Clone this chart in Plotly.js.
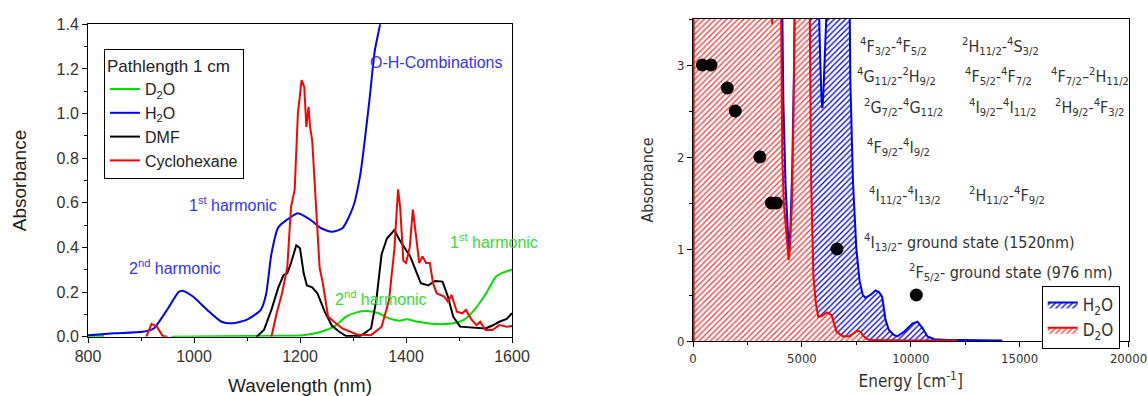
<!DOCTYPE html>
<html>
<head>
<meta charset="utf-8">
<script src="https://cdn.plot.ly/plotly-3.0.1.min.js"></script>
<style>html,body{margin:0;padding:0;background:#fff;}#chart{width:1148px;height:396px;}</style>
</head>
<body>
<div id="chart"></div>
<script>
// ---------- Left panel: NIR absorbance vs wavelength (nm) ----------
const wlD2O  = [800, 830, null, 957, 1050, 1150, 1206, 1240, 1267, 1287, 1307, 1327, 1348, 1368, 1388, 1401, 1422, 1455, 1489, 1509, 1529, 1550, 1570, 1583, 1600];
const absD2O = [0.003, 0.003, null, 0.0, 0.002, 0.004, 0.007, 0.022, 0.05, 0.09, 0.109, 0.115, 0.105, 0.082, 0.072, 0.078, 0.067, 0.057, 0.06, 0.075, 0.12, 0.19, 0.27, 0.287, 0.30];

const wlH2O  = [800, 850, 903, 924, 951, 971, 978, 998, 1025, 1052, 1072, 1099, 1126, 1136, 1146, 1159, 1179, 1196, 1220, 1240, 1260, 1280, 1300, 1314, 1331, 1341, 1351, 1360];
const absH2O = [0.007, 0.015, 0.022, 0.037, 0.127, 0.20, 0.206, 0.18, 0.12, 0.067, 0.06, 0.075, 0.12, 0.19, 0.37, 0.49, 0.53, 0.553, 0.523, 0.486, 0.47, 0.486, 0.58, 0.73, 1.06, 1.28, 1.4, 1.55];

const wlDMF  = [1118, 1132, 1146, 1159, 1169, 1176, 1183, 1193, 1200, 1207, 1213, 1223, 1233, 1247, 1260, 1274, 1287, 1314, 1334, 1344, 1354, 1364, 1378, 1388, 1398, 1408, 1418, 1428, 1442, 1455, 1469, 1479, 1489, 1502, 1550, 1563, 1576, 1590, 1600];
const absDMF = [0, 0.03, 0.12, 0.22, 0.276, 0.284, 0.33, 0.41, 0.396, 0.284, 0.23, 0.221, 0.194, 0.11, 0.05, 0.022, 0.003, 0.003, 0.037, 0.164, 0.37, 0.44, 0.478, 0.433, 0.396, 0.36, 0.30, 0.24, 0.23, 0.25, 0.247, 0.18, 0.09, 0.045, 0.037, 0.05, 0.067, 0.08, 0.105];

const wlCyc  = [910, 920, 930, 941, 950, null, 1146, 1156, 1166, 1176, 1183, 1190, 1196, 1203, 1208, 1212, 1216, 1219, 1223, 1230, 1237, 1243, 1253, 1264, 1280, 1307, 1334, 1354, 1368, 1378, 1385, 1389, 1395, 1400, 1407, 1413, 1418, 1425, 1431, 1438, 1445, 1451, 1458, 1472, 1479, 1486, 1496, 1506, 1513, 1524, 1533, 1540, 1550, 1563, 1576, 1590, 1600];
const absCyc = [0, 0.057, 0.045, 0.003, 0, null, 0, 0.105, 0.194, 0.31, 0.58, 0.66, 1.0, 1.15, 1.12, 0.94, 1.03, 0.94, 0.88, 0.61, 0.31, 0.24, 0.09, 0.067, 0.037, 0.01, 0.007, 0.045, 0.164, 0.39, 0.66, 0.58, 0.34, 0.33, 0.40, 0.57, 0.46, 0.33, 0.36, 0.33, 0.33, 0.24, 0.194, 0.18, 0.157, 0.187, 0.112, 0.105, 0.12, 0.075, 0.052, 0.067, 0.03, 0.03, 0.052, 0.045, 0.048];

// ---------- Right panel: absorbance vs energy (cm^-1) ----------
const enH2O  = [30, 30, 3600, 3640, 3680, 4080, 4150, 4250, 4330, 4400, 4470, 4560, 4640, 4690, 5740, 5790, 5850, 5900, 5939, 5980, 6040, 6120, 6200, 7197, 7227, 7348, 7500, 7650, 7800, 7917, 8150, 8380, 8550, 8688, 8842, 8996, 9200, 9383, 9691, 10077, 10308, 10540, 10771, 11080, 11697, 12314, 14200];
const abH2O  = [0, 4.0, 4.0, 3.45, 4.0, 4.0, 2.6, 1.7, 1.2, 0.98, 1.2, 1.9, 3.0, 4.0, 4.0, 3.4, 3.0, 2.65, 2.53, 2.65, 3.0, 3.4, 4.0, 3.6, 2.82, 1.73, 1.01, 0.65, 0.5, 0.47, 0.5, 0.55, 0.53, 0.48, 0.23, 0.12, 0.07, 0.05, 0.1, 0.19, 0.21, 0.14, 0.05, 0.02, 0.01, 0.01, 0.005];

const enD2O  = [30, 30, 3600, 3640, 3680, 4030, 4045, 4100, 4170, 4300, 4394, 4450, 4545, 4621, 4697, 5348, 5424, 5530, 5651, 5757, 5900, 6150, 6364, 6591, 6894, 7197, 7350, 7550, 7700, 7803, 8000, 8100, 10000, 12100];
const abD2O  = [0, 4.0, 4.0, 3.44, 4.0, 4.0, 3.4, 2.0, 1.5, 1.1, 0.88, 1.0, 1.5, 2.5, 4.0, 4.0, 1.73, 0.7, 0.39, 0.26, 0.27, 0.31, 0.28, 0.1, 0.05, 0.055, 0.08, 0.11, 0.1, 0.06, 0.02, 0.01, 0.005, 0.005];

const enLevels  = [430, 825, 1575, 1940, 3070, 3600, 3830, 6613, 10256];
const abLevels  = [3, 3, 2.75, 2.5, 2, 1.5, 1.5, 1, 0.5];

const FL = 'Liberation Sans, Arial, sans-serif';
const FR = 'DejaVu Sans Condensed, DejaVu Sans, sans-serif';

const traces = [
  {x: wlD2O, y: absD2O, name: 'D<sub>2</sub>O', mode: 'lines', line: {color: '#00e000', width: 2, shape: 'spline', smoothing: 0.6}, xaxis: 'x', yaxis: 'y', legend: 'legend'},
  {x: wlH2O, y: absH2O, name: 'H<sub>2</sub>O', mode: 'lines', line: {color: '#0000ff', width: 2, shape: 'spline', smoothing: 0.6}, xaxis: 'x', yaxis: 'y', legend: 'legend'},
  {x: wlDMF, y: absDMF, name: 'DMF', mode: 'lines', line: {color: '#000000', width: 2}, xaxis: 'x', yaxis: 'y', legend: 'legend'},
  {x: wlCyc, y: absCyc, name: 'Cyclohexane', mode: 'lines', line: {color: '#ff0000', width: 2}, xaxis: 'x', yaxis: 'y', legend: 'legend'},

  {x: enH2O, y: abH2O, name: 'H<sub>2</sub>O', mode: 'lines', line: {color: '#0000ff', width: 2},
   fill: 'tozeroy', fillcolor: 'rgba(0,0,255,0.25)',
   fillpattern: {shape: '/', fgcolor: '#1010e0', bgcolor: '#ffffff', size: 4, solidity: 0.35},
   xaxis: 'x2', yaxis: 'y2', legend: 'legend2'},
  {x: enD2O, y: abD2O, name: 'D<sub>2</sub>O', mode: 'lines', line: {color: '#ff0000', width: 2},
   fill: 'tozeroy', fillcolor: 'rgba(255,0,0,0.25)',
   fillpattern: {shape: '/', fgcolor: '#ff3030', bgcolor: '#ffffff', size: 4, solidity: 0.3},
   xaxis: 'x2', yaxis: 'y2', legend: 'legend2'},
  {x: enLevels, y: abLevels, mode: 'markers', marker: {color: '#000', size: 13}, showlegend: false, xaxis: 'x2', yaxis: 'y2', hoverinfo: 'skip'}
];

const axL = {showline: true, linecolor: '#000', linewidth: 1, mirror: true, ticks: 'outside', ticklen: 5, tickcolor: '#000', showgrid: false, zeroline: false, tickfont: {family: FL, size: 16, color: '#333'}};
const axR = {showline: true, linecolor: '#000', linewidth: 1, mirror: true, ticks: 'outside', ticklen: 5, tickcolor: '#000', showgrid: false, zeroline: false, tickfont: {family: FR, size: 13, color: '#333'}};

function ann(text, x, y, color, xref, yref, size, fam, anchor) {
  return {text: text, x: x, y: y, xref: xref, yref: yref, showarrow: false, xanchor: anchor || 'center', yanchor: 'middle', font: {family: fam, size: size, color: color}};
}
const blue = '#3333ff', green = '#33dd33', dark = '#333333';

const annotations = [
  ann('O-H-Combinations', 1457, 1.228, blue, 'x', 'y', 16, FL),
  ann('1<sup>st</sup> harmonic', 1073, 0.595, blue, 'x', 'y', 16, FL),
  ann('2<sup>nd</sup> harmonic', 965, 0.314, blue, 'x', 'y', 16, FL),
  ann('2<sup>nd</sup> harmonic', 1353, 0.175, green, 'x', 'y', 16, FL),
  ann('1<sup>st</sup> harmonic', 1566, 0.429, green, 'x', 'y', 16, FL),

  ann('<sup>4</sup>F<sub>3/2</sub>-<sup>4</sup>F<sub>5/2</sub>', 7577, 3.196, dark, 'x2', 'y2', 16, FR, 'left'),
  ann('<sup>2</sup>H<sub>11/2</sub>-<sup>4</sup>S<sub>3/2</sub>', 12261, 3.196, dark, 'x2', 'y2', 16, FR, 'left'),
  ann('<sup>4</sup>G<sub>11/2</sub>-<sup>2</sup>H<sub>9/2</sub>', 7439, 2.87, dark, 'x2', 'y2', 16, FR, 'left'),
  ann('<sup>4</sup>F<sub>5/2</sub>-<sup>4</sup>F<sub>7/2</sub>', 12398, 2.87, dark, 'x2', 'y2', 16, FR, 'left'),
  ann('<sup>4</sup>F<sub>7/2</sub>–<sup>2</sup>H<sub>11/2</sub>', 16348, 2.87, dark, 'x2', 'y2', 16, FR, 'left'),
  ann('<sup>2</sup>G<sub>7/2</sub>-<sup>4</sup>G<sub>11/2</sub>', 7760, 2.543, dark, 'x2', 'y2', 16, FR, 'left'),
  ann('<sup>4</sup>I<sub>9/2</sub>–<sup>4</sup>I<sub>11/2</sub>', 12582, 2.543, dark, 'x2', 'y2', 16, FR, 'left'),
  ann('<sup>2</sup>H<sub>9/2</sub>-<sup>4</sup>F<sub>3/2</sub>', 16531, 2.543, dark, 'x2', 'y2', 16, FR, 'left'),
  ann('<sup>4</sup>F<sub>9/2</sub>-<sup>4</sup>I<sub>9/2</sub>', 7898, 2.098, dark, 'x2', 'y2', 16, FR, 'left'),
  ann('<sup>4</sup>I<sub>11/2</sub>-<sup>4</sup>I<sub>13/2</sub>', 7990, 1.587, dark, 'x2', 'y2', 16, FR, 'left'),
  ann('<sup>2</sup>H<sub>11/2</sub>-<sup>4</sup>F<sub>9/2</sub>', 12582, 1.587, dark, 'x2', 'y2', 16, FR, 'left'),
  ann('<sup>4</sup>I<sub>13/2</sub>- ground state (1520nm)', 7760, 1.076, dark, 'x2', 'y2', 16, FR, 'left'),
  ann('<sup>2</sup>F<sub>5/2</sub>- ground state (976 nm)', 9827, 0.75, dark, 'x2', 'y2', 16, FR, 'left')
];

const layout = {
  width: 1148, height: 396,
  margin: {l: 0, r: 0, t: 0, b: 0},
  paper_bgcolor: '#fff', plot_bgcolor: '#fff',
  font: {family: FL, color: '#222'},
  showlegend: true,
  xaxis: Object.assign({}, axL, {domain: [88/1148, 512/1148], range: [800, 1600], dtick: 200, tick0: 800,
    minor: {ticks: 'outside', ticklen: 3, dtick: 100, tickcolor: '#000'},
    title: {text: 'Wavelength (nm)', font: {family: FL, size: 19, color: '#222'}, standoff: 14}, anchor: 'y'}),
  yaxis: Object.assign({}, axL, {domain: [(396-336.7)/396, (396-24.3)/396], range: [0, 1.4], dtick: 0.2, tickformat: '.1f',
    minor: {ticks: 'outside', ticklen: 3, dtick: 0.1, tickcolor: '#000'},
    title: {text: 'Absorbance', font: {family: FL, size: 19, color: '#222'}, standoff: 24}, anchor: 'x'}),
  xaxis2: Object.assign({}, axR, {domain: [693/1148, 1128.5/1148], range: [0, 20000], dtick: 5000, tick0: 0, tickformat: 'd',
    minor: {ticks: 'outside', ticklen: 3, dtick: 2500, tickcolor: '#000'},
    title: {text: 'Energy [cm<sup>-1</sup>]', font: {family: FR, size: 17, color: '#333'}, standoff: 10}, anchor: 'y2'}),
  yaxis2: Object.assign({}, axR, {domain: [(396-341)/396, (396-19)/396], range: [0, 3.5], dtick: 1, tick0: 0, tickformat: 'd',
    minor: {ticks: 'outside', ticklen: 3, dtick: 0.5, tickcolor: '#000'},
    title: {text: 'Absorbance', font: {family: FR, size: 16, color: '#333'}, standoff: 19}, anchor: 'x2'}),
  legend: {x: 104/1148, y: (396-49)/396, xanchor: 'left', yanchor: 'top', bgcolor: '#fff', bordercolor: '#000', borderwidth: 1,
    font: {family: FL, size: 16, color: '#222'}, title: {text: 'Pathlength 1 cm', side: 'top', font: {family: FL, size: 17, color: '#222'}},
    tracegroupgap: 0, itemwidth: 30},
  legend2: {x: 1041.7/1148, y: (396-286)/396, xanchor: 'left', yanchor: 'top', bgcolor: '#fff', bordercolor: '#000', borderwidth: 1,
    font: {family: FR, size: 17, color: '#333'}, tracegroupgap: 0},
  annotations: annotations
};

Plotly.newPlot('chart', traces, layout, {staticPlot: true, displayModeBar: false});
</script>
</body>
</html>
